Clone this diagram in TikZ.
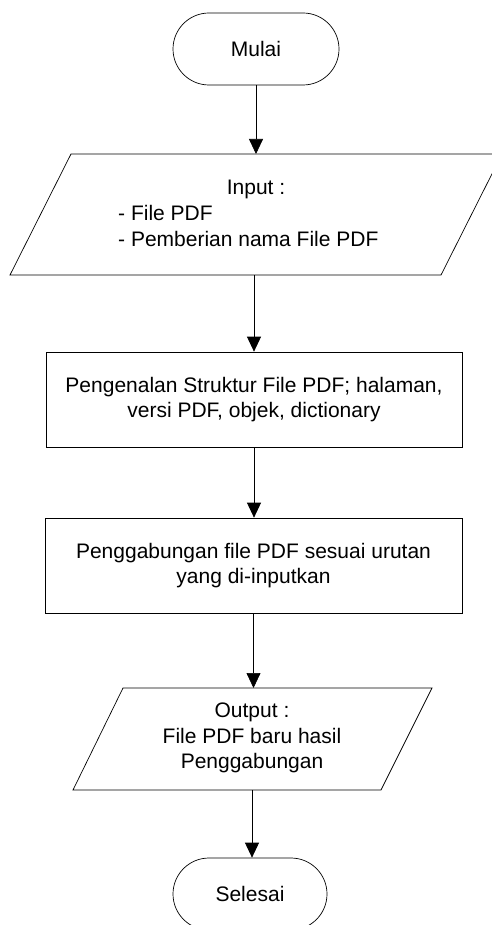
\documentclass[tikz,border=0pt]{standalone}
\usepackage{fontspec}
\setmainfont{Liberation Sans}
\usetikzlibrary{arrows.meta}
\begin{document}
\begin{tikzpicture}[x=1pt,y=-1pt,
  every node/.style={font=\fontsize{21}{25.5}\selectfont},
  line/.style={draw, line width=0.7pt, line join=miter},
  term/.style={draw, line width=0.7pt, rounded corners=36pt, minimum width=166pt, minimum height=72pt, inner sep=0pt},
  procbox/.style={draw, line width=0.7pt, minimum width=416pt, minimum height=95pt, align=center, inner sep=0pt},
  flow/.style={line width=0.7pt, -{Triangle[width=14pt,length=15pt]}}]
\useasboundingbox (0,0) rectangle (491,925);
% start
\node[term] (mulai) at (256,49) {Mulai};
% input parallelogram
\draw[line] (71,154) -- (502,154) -- (441,275) -- (10,275) -- cycle;
\coordinate (inT) at (256,154);
\coordinate (inB) at (254,275);
\node (input) at (256,189) {Input :};
\node[anchor=west, align=left, inner sep=0pt] (inlist) at (118,226) {- File PDF\\- Pemberian nama File PDF};
% process boxes
\node[procbox] (r1) at (254,399.5) {Pengenalan Struktur File PDF; halaman,\\versi PDF, objek, dictionary};
\node[procbox, minimum width=417pt] (r2) at (253.5,565.5) {Penggabungan file PDF sesuai urutan\\yang di-inputkan};
% output parallelogram
\draw[line] (123,688) -- (432,688) -- (381,790) -- (73,790) -- cycle;
\coordinate (outT) at (252,688);
\coordinate (outB) at (252,790);
\node[align=center] (output) at (252,738) {Output :\\File PDF baru hasil\\Penggabungan};
% end
\node[term, minimum width=154pt] (sel) at (250,894) {Selesai};
% connectors
\draw[flow] (mulai.south) -- (mulai.south |- inT);
\draw[flow] (inB) -- (inB |- r1.north);
\draw[flow] (r1.south) -- (r1.south |- r2.north);
\draw[flow] (r2.south) -- (r2.south |- outT);
\draw[flow] (outB) -- (outB |- sel.north);
\end{tikzpicture}
\end{document}
